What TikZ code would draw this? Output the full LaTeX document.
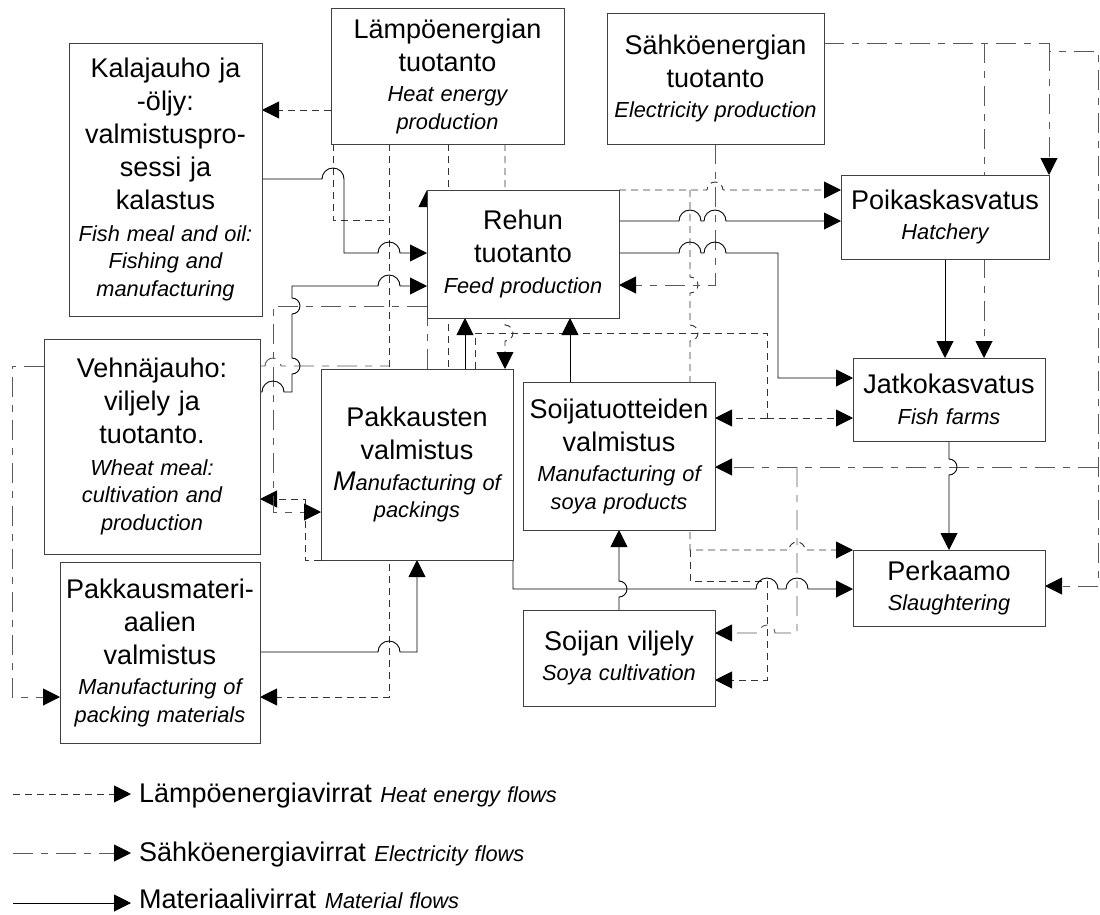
\documentclass[tikz,border=0pt]{standalone}
\usepackage{fontspec}
\setmainfont{Liberation Sans}
\usetikzlibrary{arrows.meta,backgrounds}
\newcommand\fmain{\fontsize{27}{33}\selectfont\spaceskip=0.32em\relax}
\newcommand\fital{\fontsize{21.8}{27.5}\selectfont\itshape\spaceskip=0.32em\relax}
\begin{document}
\begin{tikzpicture} [x = 1pt, y = -1pt, >={Triangle[length = 17pt, width = 17pt, color = black]},
	box/.style = {draw = black!75, fill = white, line width = 0.9pt, outer sep = 0pt, inner sep = 0pt, align = center},
	heat/.style = {black!80, line width = 0.9pt, dash pattern = on 7pt off 5pt},
	elec/.style = {black!65, line width = 0.9pt, dash pattern = on 20pt off 8pt on 7pt off 8pt},
	mat/.style = {black, line width = 0.9pt},
	legend/.style = {anchor = base west, inner xsep = 8pt, inner ysep = 0pt}]
	\useasboundingbox (0,0) rectangle (1100,914);
	\node [box, minimum width = 193pt, text width = 193pt, minimum height = 273pt] (fish) at (165.5,179.5) {\fmain Kalajauho ja\\ -öljy:\\ valmistuspro-\\ sessi ja\\ kalastus\par\vspace{4pt}\fital Fish meal and oil:\\ Fishing and\\ manufacturing\par};
	\node [box, minimum width = 233pt, text width = 233pt, minimum height = 136pt] (heat) at (447.5,76) {\fmain Lämpöenergian\\ tuotanto\par\vspace{3pt}\fital Heat energy\\ production\par};
	\node [box, minimum width = 217pt, text width = 217pt, minimum height = 131pt] (elec) at (715.5,78.5) {\fmain Sähköenergian\\ tuotanto\par\vspace{3pt}\fital Electricity production\par};
	\node [box, minimum width = 192pt, text width = 192pt, minimum height = 128pt] (feed) at (523,254) {\fmain Rehun\\ tuotanto\par\vspace{3pt}\fital Feed production\par};
	\node [box, minimum width = 208pt, text width = 208pt, minimum height = 84pt] (hatch) at (945,217) {\fmain Poikaskasvatus\par\vspace{3pt}\fital Hatchery\par};
	\node [box, minimum width = 192pt, text width = 192pt, minimum height = 83pt] (farm) at (949,399.5) {\fmain Jatkokasvatus\par\vspace{3pt}\fital Fish farms\par};
	\node [box, minimum width = 192pt, text width = 192pt, minimum height = 76pt] (slaught) at (949,588) {\fmain Perkaamo\par\vspace{3pt}\fital Slaughtering\par};
	\node [box, minimum width = 192pt, text width = 192pt, minimum height = 148pt] (soyprod) at (619,456) {\fmain Soijatuotteiden\\ valmistus\par\vspace{3pt}\fital Manufacturing of\\ soya products\par};
	\node [box, minimum width = 192pt, text width = 192pt, minimum height = 96pt] (soycult) at (619,658) {\fmain Soijan viljely\par\vspace{3pt}\fital Soya cultivation\par};
	\node [box, minimum width = 192pt, text width = 192pt, minimum height = 191pt] (pack) at (417,464.5) {\fmain Pakkausten\\ valmistus\par\vspace{3pt}\fital{\fontsize{27}{27.5}\selectfont M}anufacturing of\\ packings\par};
	\node [box, minimum width = 216pt, text width = 216pt, minimum height = 215pt] (wheat) at (152,446.5) {\fmain Vehnäjauho:\\ viljely ja\\ tuotanto.\par\vspace{4pt}\fital Wheat meal:\\ cultivation and\\ production\par};
	\node [box, minimum width = 200pt, text width = 200pt, minimum height = 181pt] (packmat) at (160,652.5) {\fmain Pakkausmateri-\\ aalien\\ valmistus\par\vspace{3pt}\fital Manufacturing of\\ packing materials\par};
	\begin{scope}[on background layer]
		\draw [heat, ->] (heat.west |- 0,110) -- (fish.east |- 0,110);
		\draw [heat] (heat.south -| 333,0) -- (333,220) -- (389,220);
		\draw [heat, ->] (heat.south -| 389,0) -- (389,697) -- (packmat.east |- 0,697);
		\draw [heat] (heat.south -| 448,0) -- (pack.north -| 448,0);
		\draw [heat, ->] (heat.south -| 505,0) -- (505,325) arc (90:-90:8pt) -- (pack.north -| 505,0);
		\draw [heat] (pack.north -| 475,0) -- (475,333) -- (767,333) -- (767,418) coordinate (hsplit);
		\draw [heat, ->] (hsplit) -- (soyprod.east |- hsplit);
		\draw [heat, ->] (hsplit) -- (farm.west |- hsplit);
		\draw [heat, ->] (feed.north east) -- (707,190) arc (180:0:8pt) -- (hatch.west |- feed.north east);
		\draw [heat, ->] (690,190) -- (690,277) arc (90:-90:8pt) -- (690,325) arc (90:-90:8pt) -- (690,550) coordinate (hsoy) -- (789,550) arc (180:0:8pt) -- (slaught.west |- hsoy);
		\draw [heat, ->] (hsoy) -- (690,581) -- (767,581) -- (767,680) -- (soycult.east |- 0,680);
		\draw [heat, ->] (pack.south west) -- (305,560) -- (305,499) -- (wheat.east |- 0,499);
		\draw [elec] (elec.east |- 0,43) -- (1049,43) -- (1049,51) -- (1098,51) -- (1098,586) coordinate (eright);
		\draw [elec, ->] (1049,51) -- (hatch.north east);
		\draw [elec, ->] (eright) -- (slaught.east |- eright);
		\draw [elec, ->] (984,43) -- (farm.north -| 984,0);
		\draw [elec, ->] (1098,467) -- (soyprod.east |- 0,467);
		\draw [elec, ->] (elec.south) -- (elec.south |- 0,285) -- (feed.east |- 0,285);
		\draw [elec, ->] (797,467) -- (797,633) -- (775,633) arc (0:180:8pt) -- (soycult.east |- 0,633);
		\draw [elec, ->] (wheat.west |- 0,366) -- (12,366) -- (12,697) -- (packmat.west |- 0,697);
		\draw [elec] (wheat.east |- 0,366) -- (265,366) arc (180:0:8pt) -- (389,366);
		\draw [elec, ->] (pack.north -| 427,0) -- (feed.north west);
		\draw [elec, ->] (feed.west |- 0,306) -- (273,306) -- (273,512) -- (pack.west |- 0,512);
		\draw [mat, ->] (fish.east |- 0,179) -- (322,179) arc (180:0:11pt) -- (344,253) -- (378,253) arc (180:0:11pt) -- (feed.west |- 0,253);
		\draw [mat, ->] (wheat.east |- 0,392) -- (262,392) arc (180:0:11pt) -- (292,392) -- (292,374) arc (-90:90:8pt) -- (292,314) arc (-90:90:8pt) -- (292,286) -- (378,286) arc (180:0:11pt) -- (feed.west |- 0,286);
		\draw [mat, ->] (pack.north -| 465,0) -- (feed.south -| 465,0);
		\draw [mat, ->] (soyprod.north -| 570,0) -- (feed.south -| 570,0);
		\draw [mat, ->] (feed.east |- 0,221) -- (679,221) arc (180:0:11pt) -- (704,221) arc (180:0:11pt) -- (hatch.west |- 0,221);
		\draw [mat, ->] (feed.east |- 0,253) -- (679,253) arc (180:0:11pt) -- (704,253) arc (180:0:11pt) -- (778,253) -- (778,378) -- (farm.west |- 0,378);
		\draw [mat, ->] (hatch.south) -- (hatch.south |- farm.north);
		\draw [mat, ->] (farm.south) -- (949,459) arc (90:-90:8pt) -- (slaught.north);
		\draw [mat, ->] (pack.south east) -- (513,589) -- (756,589) arc (180:0:11pt) -- (786,589) arc (180:0:11pt) -- (slaught.west |- 0,589);
		\draw [mat, ->] (soycult.north) -- (619,597) arc (-90:90:8pt) -- (soyprod.south);
		\draw [mat, ->] (packmat.east |- 0,652) -- (378,652) arc (180:0:11pt) -- (417,652) -- (pack.south);
	\end{scope}
	\node [legend] (lheat) at (131,802) {\fmain Lämpöenergiavirrat {\fital Heat energy flows}};
	\node [legend] (lelec) at (131,861) {\fmain Sähköenergiavirrat {\fital Electricity flows}};
	\node [legend] (lmat) at (131,908) {\fmain Materiaalivirrat {\fital Material flows}};
	\draw [heat, ->] (13,794) -- (lheat.west |- 0,794);
	\draw [elec, ->] (13,853) -- (lelec.west |- 0,853);
	\draw [mat, ->] (13,903) -- (lmat.west |- 0,903);
\end{tikzpicture}
\end{document}
